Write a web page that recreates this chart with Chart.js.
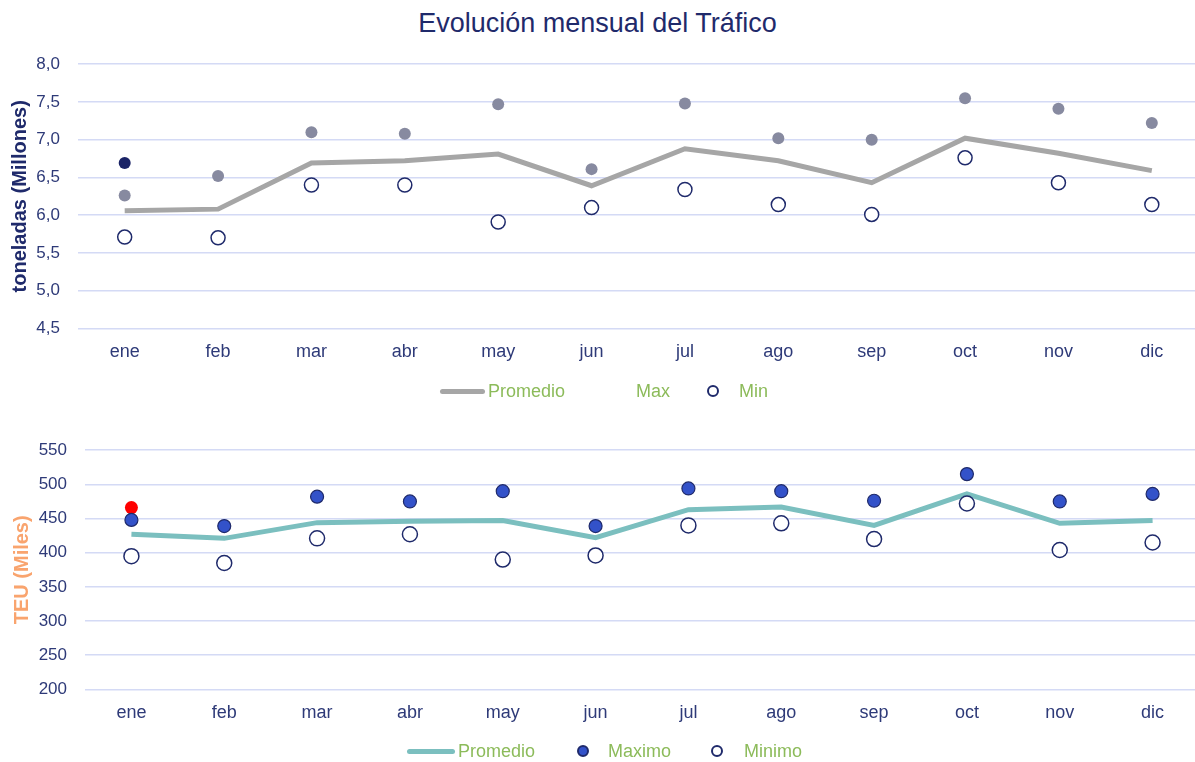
<!DOCTYPE html>
<html>
<head>
<meta charset="utf-8">
<script src="https://cdn.jsdelivr.net/npm/chart.js@4.4.1/dist/chart.umd.min.js"></script>
<style>
  html, body { margin: 0; padding: 0; background: #fff; overflow: hidden; font-family: "Liberation Sans", Arial, sans-serif; }
  #wrap { position: relative; width: 1195px; height: 762px; overflow: hidden; }
  #title { position: absolute; left: 0; top: 8px; width: 1195px; text-align: center; font-size: 27px; color: #1f2a6b; }
  canvas { position: absolute; left: 0; }
  .leg { position: absolute; font-size: 18px; color: #8cbb5a; line-height: 20px; }
  .line { position: absolute; height: 5px; border-radius: 3px; }
  .dot { position: absolute; width: 8px; height: 8px; border-radius: 50%; border: 2px solid #1f2a6b; }
</style>
</head>
<body>
<div id="wrap">
  <div id="title">Evolución mensual del Tráfico</div>
  <canvas id="chartTon" width="1207" height="347" style="top:36px"></canvas>
  <canvas id="chartTeu" width="1208" height="322" style="top:422px"></canvas>

  <!-- legend top -->
  <div class="line" style="left:440px;top:389px;width:45px;background:#a6a6a6"></div>
  <div class="leg" style="left:488px;top:381px">Promedio</div>
  <div class="leg" style="left:636px;top:381px">Max</div>
  <div class="dot" style="left:707px;top:385px;background:#fff"></div>
  <div class="leg" style="left:739px;top:381px">Min</div>

  <!-- legend bottom -->
  <div class="line" style="left:407px;top:749px;width:48px;background:#7bbfbf"></div>
  <div class="leg" style="left:458px;top:741px">Promedio</div>
  <div class="dot" style="left:577px;top:745px;background:#3352c9"></div>
  <div class="leg" style="left:608px;top:741px">Maximo</div>
  <div class="dot" style="left:711px;top:745px;background:#fff"></div>
  <div class="leg" style="left:744px;top:741px">Minimo</div>
</div>

<script>
// ===== DATA =====
const months = ["ene", "feb", "mar", "abr", "may", "jun", "jul", "ago", "sep", "oct", "nov", "dic"];

// toneladas (Millones)
const promedioTon = [6.06, 6.08, 6.69, 6.72, 6.81, 6.39, 6.88, 6.72, 6.43, 7.02, 6.82, 6.59];
const maxTon = [6.26, 6.52, 7.10, 7.08, 7.47, 6.61, 7.48, 7.02, 7.00, 7.55, 7.41, 7.22];
const minTon = [5.71, 5.70, 6.40, 6.40, 5.91, 6.10, 6.34, 6.14, 6.01, 6.76, 6.43, 6.14];
const actualTon = [6.69, null, null, null, null, null, null, null, null, null, null, null];

// TEU (Miles)
const promedioTeu = [427, 421, 444, 446, 447, 422, 463, 467, 440, 486, 443, 447];
const maxTeu = [448, 439, 482, 475, 490, 439, 494, 490, 476, 515, 475, 486];
const minTeu = [395, 385, 421, 427, 390, 396, 440, 443, 420, 472, 404, 415];
const actualTeu = [466, null, null, null, null, null, null, null, null, null, null, null];

const navy = "#1f2a6b";
const tickColor = "#2e3a78";
const gridColor = "#d4daf5";

function pointSet(data, fill, border, radius, borderWidth) {
  return {
    type: "line",
    data: data,
    showLine: false,
    pointRadius: radius,
    pointHoverRadius: radius,
    pointBackgroundColor: fill,
    pointBorderColor: border,
    pointBorderWidth: borderWidth,
    order: 1
  };
}

function makeScales(min, max, step, title, titleColor, axisWidth, fmt) {
  return {
    x: {
      offset: true,
      grid: { display: false, drawTicks: false },
      border: { display: false },
      ticks: { color: tickColor, font: { size: 18 }, padding: 13 }
    },
    y: {
      min: min,
      max: max,
      afterFit: function (scale) { scale.width = axisWidth; },
      grid: { color: gridColor, lineWidth: 1.5, drawTicks: false },
      border: { display: false },
      ticks: { stepSize: step, color: tickColor, font: { size: 17 }, padding: 18, callback: fmt },
      title: {
        display: true,
        text: title,
        color: titleColor,
        font: { size: 20, weight: "bold" },
        padding: { top: 0, bottom: 0 }
      }
    }
  };
}

Chart.defaults.font.family = '"Liberation Sans", Arial, sans-serif';

new Chart(document.getElementById("chartTon"), {
  type: "line",
  data: {
    labels: months,
    datasets: [
      {
        label: "Promedio",
        data: promedioTon,
        borderColor: "#a6a6a6",
        borderWidth: 5,
        pointRadius: 0,
        tension: 0,
        order: 10
      },
      Object.assign({ label: "Max" }, pointSet(maxTon, "#878aa0", "#878aa0", 6, 0)),
      Object.assign({ label: "Min" }, pointSet(minTon, "#ffffff", navy, 7, 1.5)),
      Object.assign({ label: "Actual" }, pointSet(actualTon, "#1a2366", "#1a2366", 6, 0))
    ]
  },
  options: {
    responsive: false,
    animation: false,
    layout: { padding: { top: 20, bottom: 7, left: 8, right: 0 } },
    plugins: { legend: { display: false }, tooltip: { enabled: false } },
    scales: makeScales(4.5, 8.0, 0.5, "toneladas (Millones)", navy, 70,
      v => v.toFixed(1).replace(".", ","))
  }
});

new Chart(document.getElementById("chartTeu"), {
  type: "line",
  data: {
    labels: months,
    datasets: [
      {
        label: "Promedio",
        data: promedioTeu,
        borderColor: "#7bbfbf",
        borderWidth: 5,
        pointRadius: 0,
        tension: 0,
        order: 10
      },
      Object.assign({ label: "Maximo" }, pointSet(maxTeu, "#3352c9", navy, 6.5, 1.2)),
      Object.assign({ label: "Minimo" }, pointSet(minTeu, "#ffffff", navy, 7.5, 1.5)),
      Object.assign({ label: "Actual" }, pointSet(actualTeu, "#ff0000", "#ff0000", 6.5, 0))
    ]
  },
  options: {
    responsive: false,
    animation: false,
    layout: { padding: { top: 12, bottom: 7, left: 10, right: 0 } },
    plugins: { legend: { display: false }, tooltip: { enabled: false } },
    scales: makeScales(200, 550, 50, "TEU (Miles)", "#f9a46e", 75, v => v)
  }
});
</script>
</body>
</html>
